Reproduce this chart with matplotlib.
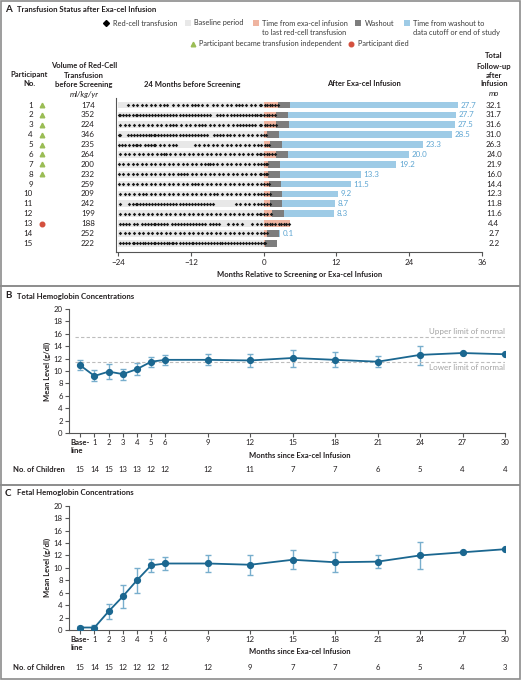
import matplotlib
matplotlib.use("Agg")
import matplotlib.pyplot as plt
import matplotlib.transforms as mtransforms
from matplotlib.patches import Rectangle
import numpy as np

plt.rcParams['font.family'] = ['Lato', 'DejaVu Sans']
plt.rcParams['font.size'] = 5.8
plt.rcParams['axes.unicode_minus'] = True

# ---------------- panel A data ----------------
participants = [1, 2, 3, 4, 5, 6, 7, 8, 9, 10, 11, 12, 13, 14, 15]
volume = [174, 352, 224, 346, 235, 264, 200, 232, 259, 209, 242, 199, 188, 252, 222]
independent = [1, 1, 1, 1, 1, 1, 1, 1, 0, 0, 0, 0, 0, 0, 0]
died = [0, 0, 0, 0, 0, 0, 0, 0, 0, 0, 0, 0, 1, 0, 0]
total_followup = [32.1, 31.7, 31.6, 31.0, 26.3, 24.0, 21.9, 16.0, 14.4, 12.3, 11.8, 11.6, 4.4, 2.7, 2.2]
blue_months = [27.7, 27.7, 27.5, 28.5, 23.3, 20.0, 19.2, 13.3, 11.5, 9.2, 8.7, 8.3, None, 0.1, None]
last_transfusion = [2.4, 2.0, 2.1, 0.5, 1.0, 2.0, 0.7, 0.7, 0.9, 1.1, 1.1, 1.3, 4.4, 0.6, 0.3]

# transfusions in the 24 months before screening, one char = 0.25 month from -24
baseline_transfusions = [
    "......x..x.." "x..x..x..x.." "x..x..x.x..." "x..x..x..x.." "x.x.x..x..x." "..x..x..x..x" "..x..x.x.x.." "x..x..x..xx.",
    "xx.x.x.x.x.x" "x.x.x.x.x.x." "x.x.x.x.x.x." "x.x.x.x.x.x." "x.x.x.x.x.x." "x....x.x.x.x" "..x.x.x.x.x." "x.x.x.xx.xx.",
    ".x..x..x..x." ".x..x..x..x." ".x..x..x..x." "x.x..x..x..x" "..x..x.x.x.." "x..x..x..x.." "x..x..x.x.x." "x.x.x.x..xx.",
    "xx....x.x.x." "x.x.x.x.xx.x" "x.x.x.x.x.x." "x.x.x.x.x.x." "x.x.x.x.x.x." "...x.x.x.x.x" ".x..x..x..x." ".x..x..x..x.",
    "x.x.x..x.x.x" "x.x..x.x.x.x" "x..x..x..x.." "x.x........." "..x..x..x..x" "..x..x..x..x" "..x..x..x..x" "..x..x..x.x.",
    ".x..x..x..x." ".x..x..x..x." ".x..x.xx..x." ".x..x..x..x." ".x..x..x..x." ".x..x..x..x." ".x..x..x..x." ".x..x..x.xx.",
    "x..x..x..x.." "x..x..x..x.." "x..x..x..x.." "x..x..x..x.." "x..x..x..x.x" "x.x..x..x..x" "..x..x..x..x" "..x..x..x.x.",
    "x..x..x..x.." "x..x..x..x.." "x..x..x..x.." "x..x.x.x.x.." "x..x..x..x.." "x..x..x..x.." "x..x..x..x.." "x..x..x..xx.",
    "x..x..x..x.." "x..x..x..x.." "x..x..x..x.." "x..x..x..x.." "x.x.x..x..x." ".x..x..x..x." ".x..x..x..x." ".x..x..x..x.",
    ".x..x..x..x." ".x..x.x..x.." "x..x..x..x.." "x..x..x..x.." "x..x..x..x.." "x..x.x..x..x" "..x..x..x..x" "..x..x..x.x.",
    ".x.....x.x.x" "x.x.x.x.x.x." "x.x.x.x.x.x." "x.x.x.x.x.x." "x.x.x.x.x.x." "x.x........." ".....x..x..x" "..x..x..x.x.",
    ".x..x..x..x." ".x..x..x..x." ".x..x..x..x." ".x..x..x..x." ".x..x..x..x." ".x..x..x..x." ".x..x..x..x." ".x..x..x.xx.",
    ".x.x.x.x..x." "x..x.x.x.x.x" "x.x.x.x.x..x" ".x.x.x.x.x.x" ".x.x.x.x.x.." "x.x.x.x....." "x..x..x..x.." "....x..x..x.",
    ".x..x..x..x." ".x..x..x..x." ".x..x..x..x." ".x..x..x..x." ".x..x..x..x." ".x..x..x..x." ".x..x..x..x." ".x..x..x..x.",
    ".x.x.x.x.xx." "x.x.xx.x.x.x" "x.x.x.x.xx.x" "x.x.x.x.x.x." "xx.x.x.x.x.x" ".x.x.x.xx.x." "x.x.x.x.x.x." "x.x.x.x.x.x.",
]
# transfusions after infusion (months)
post_transfusions = [
    [0.2, 0.6, 1.0, 1.4, 1.8, 2.3],
    [0.1, 0.5, 0.9, 1.4, 1.9],
    [0.2, 0.6, 1.0, 1.5, 2.0],
    [0.1, 0.4],
    [0.2, 0.6, 0.9],
    [0.1, 0.5, 0.9, 1.4, 1.9],
    [0.1, 0.4, 0.6],
    [0.1, 0.4, 0.6],
    [0.1, 0.5, 0.8],
    [0.1, 0.5, 1.0],
    [0.1, 0.5, 1.0],
    [0.1, 0.6, 1.2],
    [0.2, 0.6, 1.0, 1.4, 1.8, 2.5, 2.9, 3.3, 3.7, 4.1],
    [0.1, 0.5],
    [0.1, 0.2],
]

# ---------------- panels B / C data ----------------
month_ticks = [0, 1, 2, 3, 4, 5, 6, 9, 12, 15, 18, 21, 24, 27, 30]
month_labels = ["Base-\nline", "1", "2", "3", "4", "5", "6", "9", "12", "15", "18", "21", "24", "27", "30"]

total_hb = [10.9, 9.2, 9.9, 9.5, 10.3, 11.5, 11.8, 11.8, 11.7, 12.1, 11.8, 11.5, 12.6, 12.9, 12.7]
total_hb_lo = [10.1, 8.4, 8.7, 8.5, 9.4, 10.7, 11.0, 11.0, 10.7, 10.7, 10.7, 10.6, 11.0, None, None]
total_hb_hi = [11.7, 10.1, 11.1, 10.4, 11.3, 12.3, 12.6, 12.7, 12.7, 13.4, 13.0, 12.4, 14.1, None, None]
total_hb_n = [15, 14, 15, 13, 13, 12, 12, 12, 11, 7, 7, 6, 5, 4, 4]

fetal_hb = [0.4, 0.4, 3.0, 5.4, 8.0, 10.4, 10.7, 10.7, 10.5, 11.3, 10.9, 11.0, 12.0, 12.5, 13.0]
fetal_hb_lo = [0.2, 0.1, 1.7, 3.6, 6.0, 9.3, 9.6, 9.4, 8.9, 9.8, 9.4, 9.9, 9.8, None, None]
fetal_hb_hi = [0.6, 0.8, 4.2, 7.2, 10.0, 11.5, 11.8, 12.0, 12.0, 12.8, 12.5, 12.1, 14.2, None, None]
fetal_hb_n = [15, 14, 15, 12, 12, 12, 12, 12, 9, 7, 7, 6, 5, 4, 3]

upper_normal = 15.5
lower_normal = 11.5

# ---------------- styling ----------------
TEXT = '#231f20'
GREYTXT = '#3a3a3a'
BASE_C = '#e8e8e8'
SALMON = '#efb4a0'
WASH = '#7d7d7d'
BLUE = '#9ecbe6'
BLUE_TXT = '#5fa6d2'
GREEN = '#9bbd55'
RED = '#d4503e'
LINE = '#1b6790'
ERR = '#78aecd'
BORDER = '#8c8c8c'
BOLD_FS = 5.5
LEG_FS = 5.3

W, H = 521, 680


def fx(px):
    return px / W


def fy(py):
    return 1 - py / H


fig = plt.figure(figsize=(W / 100, H / 100), dpi=100)

deco = fig.add_axes([0, 0, 1, 1])
deco.set_xlim(0, W)
deco.set_ylim(H, 0)
deco.axis('off')

# frame and separators
deco.add_patch(Rectangle((0.6, 0.6), W - 2, H - 1.6, fill=False, edgecolor=BORDER, lw=1.2))
deco.hlines([286, 485], 0, W - 1.5, colors=BORDER, lw=1.4)

# panel titles
for y, letter, title in [(10, "A", "Transfusion Status after Exa-cel Infusion"),
                         (296, "B", "Total Hemoglobin Concentrations"),
                         (493, "C", "Fetal Hemoglobin Concentrations")]:
    deco.text(5, y, letter, fontsize=7, fontweight='bold', color=TEXT, va='center')
    deco.text(17, y, title, fontsize=5.6, fontweight='bold', color=TEXT, va='center')

# ---------------- legend of panel A ----------------
leg = dict(va='center', color=GREYTXT, fontsize=LEG_FS)
deco.plot([106], [23], 'D', ms=3.0, color='black')
deco.text(113, 23, "Red-cell transfusion", **leg)
for x, c in [(188, BASE_C), (256, SALMON), (358, WASH), (407, BLUE)]:
    deco.add_patch(Rectangle((x - 3, 20), 6, 6, color=c, lw=0))
deco.text(194, 23, "Baseline period", **leg)
deco.text(262, 23, "Time from exa-cel infusion", **leg)
deco.text(262, 32.5, "to last red-cell transfusion", **leg)
deco.text(365, 23, "Washout", **leg)
deco.text(413, 23, "Time from washout to", **leg)
deco.text(413, 32.5, "data cutoff or end of study", **leg)
deco.plot([193], [43.5], '^', ms=3.3, color=GREEN)
deco.text(199, 43.5, "Participant became transfusion independent", **leg)
deco.plot([351], [43.5], 'o', ms=3.3, color=RED)
deco.text(358, 43.5, "Participant died", **leg)

# column headers
hdr = dict(ha='center', va='center', fontweight='bold', color=TEXT, fontsize=BOLD_FS)
deco.text(29, 75, "Participant", **hdr)
deco.text(29, 84, "No.", **hdr)
deco.text(84, 65, "Volume of Red-Cell", **hdr)
deco.text(84, 75, "Transfusion", **hdr)
deco.text(84, 84, "before Screening", **hdr)
deco.text(84, 94, "ml/kg/yr", ha='center', va='center', style='italic', color=TEXT)
deco.text(192, 84, "24 Months before Screening", **hdr)
deco.text(364, 84, "After Exa-cel Infusion", **hdr)
deco.text(494, 56, "Total", **hdr)
deco.text(494, 66, "Follow-up", **hdr)
deco.text(494, 75, "after", **hdr)
deco.text(494, 84, "Infusion", **hdr)
deco.text(494, 94, "mo", ha='center', va='center', style='italic', color=TEXT)

# ---------------- panel A ----------------
axA = fig.add_axes([fx(116), fy(251.7), fx(482 - 116), (251.7 - 97.7) / H])
axA.set_xlim(-24.35, 36)
axA.set_ylim(15.85, 0.26)
bh = 0.68
for i, p in enumerate(participants):
    total = total_followup[i]
    last = last_transfusion[i]
    blue = blue_months[i]
    blue_start = total - blue if blue is not None else total
    axA.barh(p, 24, left=-24, height=bh, color=BASE_C, lw=0)
    axA.barh(p, last, left=0, height=bh, color=SALMON, lw=0)
    if blue_start > last:
        axA.barh(p, blue_start - last, left=last, height=bh, color=WASH, lw=0)
    if blue is not None:
        axA.barh(p, blue, left=blue_start, height=bh, color=BLUE, lw=0)
        axA.text(total + 0.4, p, f"{blue:.1f}", color=BLUE_TXT, va='center', ha='left')

    pattern = baseline_transfusions[i]
    xs = [-24 + (k + 0.5) * 0.25 for k, ch in enumerate(pattern) if ch == 'x']
    xs += post_transfusions[i]
    axA.plot(xs, [p] * len(xs), 'D', ms=1.8, color='#1a1a1a', mew=0, zorder=3)

trans = mtransforms.blended_transform_factory(fig.transFigure, axA.transData)
for i, p in enumerate(participants):
    axA.text(fx(33), p, str(p), transform=trans, ha='right', va='center', color=TEXT)
    axA.text(fx(88), p, str(volume[i]), transform=trans, ha='center', va='center', color=TEXT)
    axA.text(fx(494), p, f"{total_followup[i]:.1f}", transform=trans, ha='center', va='center', color=TEXT)
    if independent[i]:
        axA.plot([fx(42)], [p], '^', ms=3.3, color=GREEN, transform=trans, clip_on=False)
    if died[i]:
        axA.plot([fx(42)], [p], 'o', ms=3.3, color=RED, transform=trans, clip_on=False)

for s in ['top', 'right']:
    axA.spines[s].set_visible(False)
for s in ['left', 'bottom']:
    axA.spines[s].set_color('#555555')
    axA.spines[s].set_linewidth(0.8)
axA.set_yticks([])
axA.set_xticks([-24, -12, 0, 12, 24, 36])
axA.set_xticklabels(["\u221224", "\u221212", "0", "12", "24", "36"])
axA.tick_params(axis='x', length=3, width=0.8, color='#555555', labelcolor=TEXT, labelsize=5.8, pad=2)
deco.text(300, 274, "Months Relative to Screening or Exa-cel Infusion", ha='center', va='center',
          fontweight='bold', color=TEXT, fontsize=BOLD_FS)


# ---------------- panels B and C ----------------
def hb_panel(top_px, bottom_px, means, lo, hi, counts, count_y, xlabel_y, with_limits):
    ax = fig.add_axes([fx(69), fy(bottom_px), fx(505 - 69), (bottom_px - top_px) / H])
    ax.set_xlim(-0.8, 30)
    ax.set_ylim(0, 20)
    x = np.array(month_ticks, dtype=float)
    m = np.array(means)
    has = [k for k in range(len(m)) if lo[k] is not None]
    lo_e = np.array([m[k] - lo[k] for k in has])
    hi_e = np.array([hi[k] - m[k] for k in has])
    ax.errorbar(x[has], m[has], yerr=[lo_e, hi_e], fmt='none', ecolor=ERR, elinewidth=1.0,
                capsize=2.4, capthick=1.0, zorder=2)
    ax.plot(x, m, '-o', color=LINE, lw=1.3, ms=4.2, zorder=3)

    if with_limits:
        ax.hlines([upper_normal, lower_normal], -0.4, 30, colors='#bdbdbd', linestyles=(0, (3, 2)), lw=0.8)
        ax.text(30, upper_normal + 0.9, "Upper limit of normal", ha='right', va='center', color='#a3a3a3')
        ax.text(30, lower_normal - 0.9, "Lower limit of normal", ha='right', va='center', color='#a3a3a3')

    for s in ['top', 'right']:
        ax.spines[s].set_visible(False)
    for s in ['left', 'bottom']:
        ax.spines[s].set_color('#555555')
        ax.spines[s].set_linewidth(0.8)
    ax.set_yticks(range(0, 21, 2))
    ax.set_xticks(month_ticks)
    ax.set_xticklabels(month_labels)
    ax.get_xticklabels()[0].set_fontweight('bold')
    ax.get_xticklabels()[0].set_multialignment('left')
    ax.tick_params(length=3, width=0.8, color='#555555', labelcolor=TEXT, labelsize=5.6, pad=1.5)

    deco.text(47, (top_px + bottom_px) / 2, "Mean Level (g/dl)", rotation=90, ha='center', va='center',
              fontweight='bold', color=TEXT, fontsize=BOLD_FS)
    deco.text(300, xlabel_y, "Months since Exa-cel Infusion", ha='center', va='center',
              fontweight='bold', color=TEXT, fontsize=BOLD_FS)
    deco.text(13, count_y, "No. of Children", ha='left', va='center', fontweight='bold', color=TEXT,
              fontsize=BOLD_FS)
    ctrans = mtransforms.blended_transform_factory(ax.transData, fig.transFigure)
    for xv, n in zip(month_ticks, counts):
        ax.text(xv, fy(count_y), str(n), transform=ctrans, ha='center', va='center', color=TEXT, fontsize=5.6)
    return ax


hb_panel(309, 433, total_hb, total_hb_lo, total_hb_hi, total_hb_n, 470, 456, True)
hb_panel(505.7, 630, fetal_hb, fetal_hb_lo, fetal_hb_hi, fetal_hb_n, 667, 652, False)

fig.savefig("out.png", dpi=100)
